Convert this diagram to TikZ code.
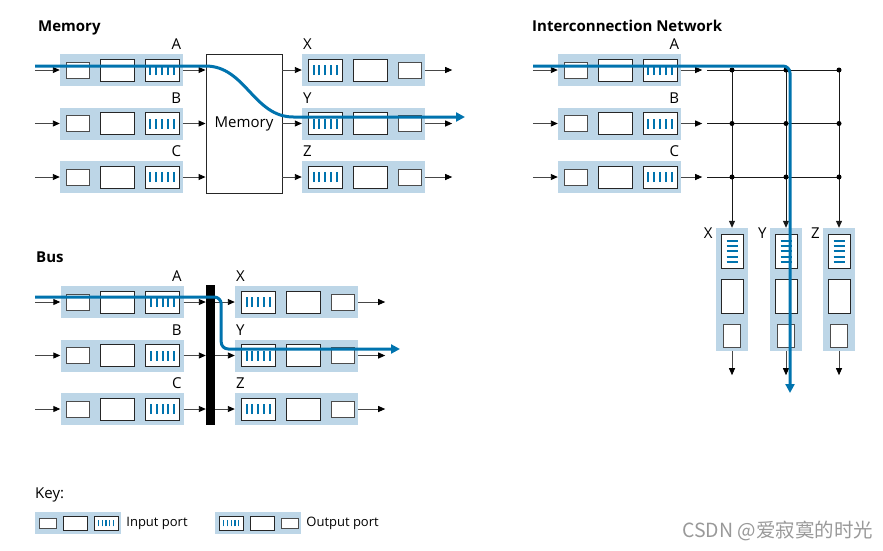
\documentclass[tikz,border=0pt]{standalone}
\usepackage{fontspec}
\setmainfont{Open Sans}
\newfontfamily\cjkfont{Noto Sans CJK SC}
\usetikzlibrary{arrows.meta,positioning}
\definecolor{portblue}{RGB}{189,214,231}
\definecolor{flowblue}{RGB}{0,115,174}
\definecolor{arrowgray}{RGB}{70,70,70}

\begin{document}
\begin{tikzpicture}
  [x=1pt, y=-1pt,
    font=\fontsize{15}{18}\selectfont,
    PortBg/.style={fill=portblue, inner sep=0pt, minimum width=123pt, minimum height=32pt},
    SmallBox/.style={draw=black!70, fill=white, line width=0.9pt, inner sep=0pt, minimum width=23pt, minimum height=16pt},
    BigBox/.style={SmallBox, draw=black!85, minimum width=34pt, minimum height=22pt},
    QueueBox/.style={BigBox, path picture={\foreach \k in {-2,...,2}
        \draw[flowblue, line width=#1*2pt] ([xshift=\k*#1*5.8pt, yshift=-#1*5pt]path picture bounding box.center) -- ++(0,#1*10pt);}},
    QueueBox/.default=1,
    VQueueBox/.style={BigBox, minimum width=22pt, minimum height=34pt, path picture={\foreach \k in {-2,...,2}
        \draw[flowblue, line width=2pt] ([xshift=-5.5pt, yshift=\k*5.3pt]path picture bounding box.center) -- ++(11pt,0);}},
    Arr/.style={arrowgray, line width=0.9pt, -{Triangle[length=7pt, width=6pt, black]}},
    Grid/.style={black!90, line width=1pt},
    Dot/.style={circle, fill=black, inner sep=0pt, minimum size=5pt},
    Flow/.style={flowblue, line width=3pt, -{Triangle[length=9pt, width=9pt]}},
    Title/.style={font=\fontsize{15}{18}\selectfont\bfseries, anchor=base west, inner sep=0pt},
    Lbl/.style={inner sep=0pt}]
  \useasboundingbox (0,0) rectangle (883,550);

  % titles
  \node[Title] (memtitle) at (38,31.5) {Memory};
  \node[Title] (nettitle) at (532,31.5) {Interconnection Network};
  \node[Title] (bustitle) at (36,262.5) {Bus};
  \node[Title, font=\fontsize{15}{18}\selectfont] (keytitle) at (35,498) {Key:};

  % input ports
  \foreach \grp/\cx/\yz in {mem/121.5/70, bus/122/302, net/619.5/70}
    \foreach \r [count=\i] in {A,B,C} {
      \node[PortBg] (\grp\r) at (\cx,{\yz+53.5*(\i-1)}) {};
      \node[SmallBox, right=6pt of \grp\r.west] (\grp\r-s) {};
      \node[BigBox, right=10pt of \grp\r-s] (\grp\r-m) {};
      \node[QueueBox, right=10pt of \grp\r-m] (\grp\r-q) {};
      \node[Lbl, anchor=base east] (\grp\r-lbl) at ([shift={(-2,-4)}]\grp\r.north east) {\r};
      \coordinate (\grp\r-in) at ([xshift=-25pt]\grp\r.west);
      \draw[Arr] (\grp\r-in) -- (\grp\r);
    }

  % output ports
  \foreach \grp/\cx/\yz in {mem/363.5/70, bus/296.5/302}
    \foreach \r [count=\i] in {X,Y,Z} {
      \node[PortBg] (\grp\r) at (\cx,{\yz+53.5*(\i-1)}) {};
      \node[QueueBox, right=6pt of \grp\r.west] (\grp\r-q) {};
      \node[BigBox, right=10pt of \grp\r-q] (\grp\r-m) {};
      \node[SmallBox, right=10pt of \grp\r-m] (\grp\r-s) {};
      \node[Lbl, anchor=base west] (\grp\r-lbl) at ([shift={(1,-4)}]\grp\r.north west) {\r};
      \coordinate (\grp\r-out) at ([xshift=27pt]\grp\r.east);
      \draw[Arr] (\grp\r) -- (\grp\r-out);
    }

  % memory
  \node[draw=black!85, fill=white, line width=0.9pt, minimum width=76pt, minimum height=139pt] (membox) at (244,123.5) {Memory};
  \foreach \r in {A,B,C} \draw[Arr] (mem\r) -- (mem\r -| membox.west);
  \foreach \r in {X,Y,Z} \draw[Arr] (mem\r -| membox.east) -- (mem\r);

  % bus
  \node[fill=black, inner sep=0pt, minimum width=9pt, minimum height=140pt] (busbar) at (210.5,355) {};
  \foreach \r in {A,B,C} \draw[Arr] (bus\r) -- (bus\r -| busbar.west);
  \foreach \r in {X,Y,Z} \draw[Arr] (bus\r -| busbar.east) -- (bus\r);

  % crossbar
  \foreach \r [count=\i] in {A,B,C} {
    \coordinate (net\r-out) at ([xshift=21pt]net\r.east);
    \draw[Arr] (net\r) -- (net\r-out);
    \coordinate (grid\i) at ([xshift=5pt]net\r-out);
  }
  \foreach \c/\cx in {X/732, Y/786, Z/839} {
    \node[PortBg, minimum width=32pt, minimum height=123pt] (net\c) at (\cx,289.5) {};
    \node[VQueueBox, below=6pt of net\c.north] (net\c-q) {};
    \node[BigBox, minimum width=22pt, minimum height=34pt, below=10pt of net\c-q] (net\c-m) {};
    \node[SmallBox, minimum width=17pt, minimum height=23pt, below=10pt of net\c-m] (net\c-s) {};
    \node[Lbl, anchor=base east] (net\c-lbl) at ([shift={(-3,11)}]net\c.north west) {\c};
    \coordinate (net\c-out) at ([yshift=-24pt]net\c.south);
    \draw[Arr] (net\c) -- (net\c-out);
  }
  \foreach \i in {1,2,3} \draw[Grid] (grid\i) -- (grid\i -| netZ);
  \foreach \c in {X,Y,Z} \draw[Grid, -{Triangle[length=7pt, width=6pt]}] (grid1 -| net\c) -- (net\c);
  \foreach \c in {X,Y,Z}
    \foreach \i in {1,2,3}
      \node[Dot] (dot\i-\c) at (grid\i -| net\c) {};

  % switched packets
  \coordinate (memflow-in) at (35,66);
  \coordinate (memflow-out) at (465,117);
  \draw[Flow] (memflow-in) -- (memflow-in -| membox.west) .. controls +(40,0) and +(-40,0) .. ([xshift=11pt]memflow-out -| membox.east) -- (memflow-out);
  \coordinate (busflow-in) at (35,297);
  \coordinate (busflow-out) at (400,349);
  \draw[Flow, rounded corners=7pt] (busflow-in) -| ([xshift=6pt]busbar.east |- busflow-out) -- (busflow-out);
  \coordinate (netflow-in) at (533,66);
  \coordinate (netflow-out) at (790,393);
  \draw[Flow, rounded corners=7pt] (netflow-in) -| (netflow-out);

  % key
  \begin{scope}[PortBg/.append style={minimum width=86pt, minimum height=22pt},
      SmallBox/.append style={minimum width=17pt, minimum height=10pt},
      BigBox/.append style={minimum width=24pt, minimum height=14pt}]
    \node[PortBg] (keyin) at (78,523) {};
    \node[SmallBox, right=4pt of keyin.west] (keyin-s) {};
    \node[BigBox, right=6pt of keyin-s] (keyin-m) {};
    \node[QueueBox=0.65, right=6pt of keyin-m] (keyin-q) {};
    \node[Lbl, right=5pt of keyin, font=\fontsize{13}{15}\selectfont] (keyin-txt) {Input port};
    \node[PortBg] (keyout) at (258,523) {};
    \node[QueueBox=0.65, right=4pt of keyout.west] (keyout-q) {};
    \node[BigBox, right=6pt of keyout-q] (keyout-m) {};
    \node[SmallBox, right=6pt of keyout-m] (keyout-s) {};
    \node[Lbl, right=5pt of keyout, font=\fontsize{13}{15}\selectfont] (keyout-txt) {Output port};
  \end{scope}

  \node[Lbl, anchor=west, text=black!40, font=\cjkfont\fontsize{19.5}{22}\selectfont] (mark) at (682,531) {CSDN @爱寂寞的时光};
\end{tikzpicture}
\end{document}
